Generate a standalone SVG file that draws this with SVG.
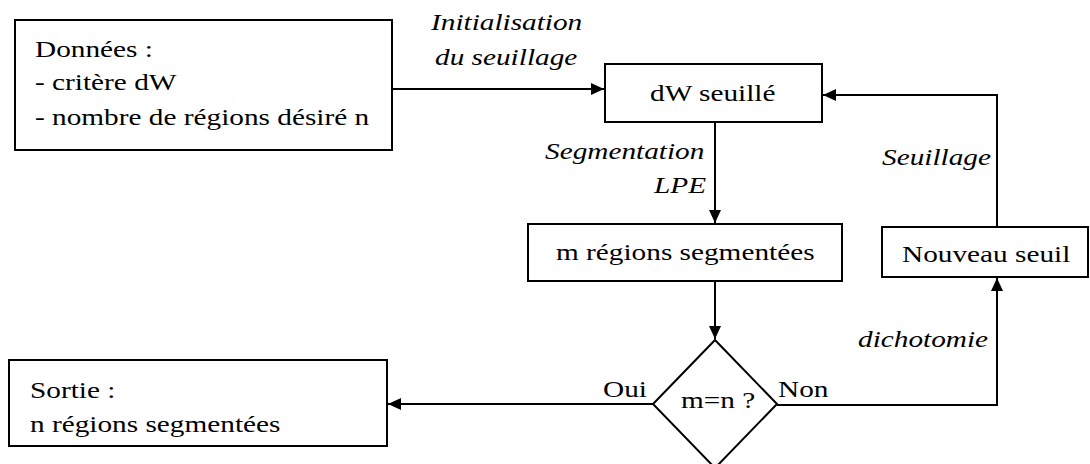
<svg xmlns="http://www.w3.org/2000/svg" width="1090" height="464" viewBox="0 0 1090 464">
  <style>
    .box { fill: #ffffff; stroke: #000000; stroke-width: 2; }
    .conn { fill: none; stroke: #000000; stroke-width: 2; }
    .t { font-size: 24px; fill: #000000; }
    .lbl { font-style: italic; }
  </style>
  <defs>
    <marker id="arrow" markerUnits="userSpaceOnUse" markerWidth="14" markerHeight="12" refX="13" refY="6" orient="auto">
      <path d="M0,0 L13,6 L0,12 z" fill="#000000"/>
    </marker>
  </defs>
  <rect width="1090" height="464" fill="#ffffff"/>

  <g id="connectors">
    <line class="conn" x1="392" y1="89" x2="604" y2="89" marker-end="url(#arrow)"/>
    <line class="conn" x1="715" y1="122" x2="715" y2="223" marker-end="url(#arrow)"/>
    <line class="conn" x1="715" y1="281" x2="715" y2="339" marker-end="url(#arrow)"/>
    <line class="conn" x1="653" y1="404" x2="388" y2="404" marker-end="url(#arrow)"/>
    <polyline class="conn" points="777,405 997,405 997,278" marker-end="url(#arrow)"/>
    <polyline class="conn" points="997,227 997,95 823,95" marker-end="url(#arrow)"/>
    <text class="t lbl" font-family="Liberation Serif" transform="matrix(1.22 0 0 1 431 30)">Initialisation</text>
    <text class="t lbl" font-family="Liberation Serif" transform="matrix(1.22 0 0 1 435 65)">du seuillage</text>
    <text class="t lbl" font-family="Liberation Serif" transform="matrix(1.22 0 0 1 545 159)">Segmentation</text>
    <text class="t lbl" font-family="Liberation Serif" transform="matrix(1.22 0 0 1 654 193)">LPE</text>
    <text class="t lbl" font-family="Liberation Serif" transform="matrix(1.22 0 0 1 882 165)">Seuillage</text>
    <text class="t lbl" font-family="Liberation Serif" transform="matrix(1.22 0 0 1 858 347)">dichotomie</text>
    <text class="t" font-family="Liberation Serif" transform="matrix(1.22 0 0 1 603 397)">Oui</text>
    <text class="t" font-family="Liberation Serif" transform="matrix(1.22 0 0 1 778 397)">Non</text>
  </g>

  <g id="donnees">
    <rect class="box" x="15" y="20" width="377" height="130"/>
    <text class="t" font-family="Liberation Serif" transform="matrix(1.22 0 0 1 35 57)">Données :</text>
    <text class="t" font-family="Liberation Serif" transform="matrix(1.22 0 0 1 35 90)">- critère dW</text>
    <text class="t" font-family="Liberation Serif" transform="matrix(1.22 0 0 1 35 125)">- nombre de régions désiré n</text>
  </g>

  <g id="dw-seuille">
    <rect class="box" x="605" y="64" width="217" height="58"/>
    <text class="t" font-family="Liberation Serif" transform="matrix(1.22 0 0 1 650 101)">dW seuillé</text>
  </g>

  <g id="m-regions">
    <rect class="box" x="528" y="224" width="314" height="57"/>
    <text class="t" font-family="Liberation Serif" transform="matrix(1.22 0 0 1 556 260)">m régions segmentées</text>
  </g>

  <g id="nouveau-seuil">
    <rect class="box" x="882" y="227" width="206" height="50"/>
    <text class="t" font-family="Liberation Serif" transform="matrix(1.22 0 0 1 902 262)">Nouveau seuil</text>
  </g>

  <g id="decision">
    <polygon class="box" points="715,340 777,404 715,468 653,404"/>
    <text class="t" font-family="Liberation Serif" transform="matrix(1.22 0 0 1 681 408)">m=n ?</text>
  </g>

  <g id="sortie">
    <rect class="box" x="9" y="360" width="378" height="86"/>
    <text class="t" font-family="Liberation Serif" transform="matrix(1.22 0 0 1 30 398)">Sortie :</text>
    <text class="t" font-family="Liberation Serif" transform="matrix(1.22 0 0 1 30 432)">n régions segmentées</text>
  </g>
</svg>
